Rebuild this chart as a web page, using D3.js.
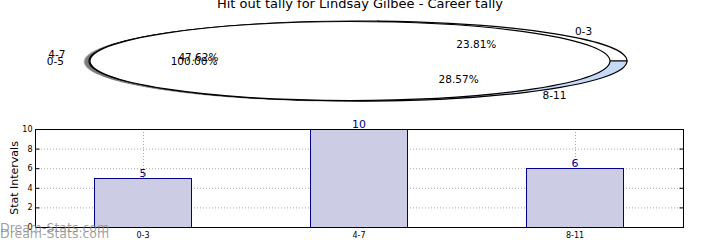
<!DOCTYPE html>
<html>
<head>
<meta charset="utf-8">
<script src="https://cdn.jsdelivr.net/npm/d3@7"></script>
<style>
  body { margin: 0; background: #fff; }
  svg { display: block; font-family: "DejaVu Sans", sans-serif; }
</style>
</head>
<body>
<svg id="chart" width="720" height="240"></svg>
<script>
// data
var categories = ["0-3", "4-7", "8-11"];
var tally = [5, 10, 6];
var pieColors = ["#ffffff", "#ffffff", "#c6d9f7"];
var overlayCategories = ["0-5"];
var overlayTally = [1];
var yTicks = [0, 2, 4, 6, 8, 10];

var width = 720, height = 240;
var svg = d3.select("#chart");

// title
svg.append("text")
    .attr("x", 360).attr("y", 8)
    .attr("text-anchor", "middle")
    .style("font-size", "13px")
    .text("Hit out tally for Lindsay Gilbee - Career tally");

// pie helpers: matplotlib style (start east, counter clockwise)
var pie = d3.pie().sort(null)
    .startAngle(Math.PI / 2)
    .endAngle(Math.PI / 2 - 2 * Math.PI);
var arc = d3.arc().innerRadius(0).outerRadius(1);

var pieLayer = svg.append("g");
var labelLayer = svg.append("g");

function drawPie(values, labels, colors, cx, cy, rx, ry) {
  var arcs = pie(values);
  var total = d3.sum(values);
  var g = pieLayer.append("g");

  // shadow
  g.append("g")
      .attr("transform", "translate(" + (cx - 0.02 * rx) + "," + (cy + 0.02 * ry) + ") scale(" + rx + "," + ry + ")")
    .selectAll("path")
    .data(arcs)
    .enter().append("path")
      .attr("d", arc)
      .attr("fill", "#000")
      .attr("fill-opacity", 0.3);

  g.append("g")
      .attr("transform", "translate(" + cx + "," + cy + ") scale(" + rx + "," + ry + ")")
    .selectAll("path")
    .data(arcs)
    .enter().append("path")
      .attr("d", arc)
      .attr("fill", function(d, i) { return colors[i]; })
      .attr("stroke", "#000")
      .attr("stroke-width", 1.2)
      .attr("vector-effect", "non-scaling-stroke");

  arcs.forEach(function(d, i) {
    var a = (d.startAngle + d.endAngle) / 2;
    var ux = Math.sin(a), uy = -Math.cos(a);
    labelLayer.append("text")
        .attr("x", cx + 1.1 * rx * ux)
        .attr("y", cy + 1.1 * ry * uy)
        .attr("dy", "0.35em")
        .attr("text-anchor", ux > 0 ? "start" : "end")
        .style("font-size", "10.5px")
        .text(labels[i]);
    labelLayer.append("text")
        .attr("x", cx + 0.6 * rx * ux)
        .attr("y", cy + 0.6 * ry * uy)
        .attr("dy", "0.35em")
        .attr("text-anchor", "middle")
        .style("font-size", "10.5px")
        .text((100 * d.value / total).toFixed(2) + "%");
  });
}

drawPie(tally, categories, pieColors, 358, 61, 269, 40);
drawPie(overlayTally, overlayCategories, ["#ffffff"], 350, 61, 260, 39.5);

// bar chart
var margin = { left: 35, right: 683, top: 129, bottom: 227 };

var x = d3.scaleBand()
    .domain(categories)
    .range([margin.left, margin.right])
    .paddingInner(0.55)
    .paddingOuter(0.275);

var y = d3.scaleLinear()
    .domain([0, 10])
    .range([margin.bottom, margin.top]);

var plot = svg.append("g");

// grid
plot.append("g").selectAll("line.gy")
    .data(yTicks.slice(1, -1))
    .enter().append("line")
      .attr("x1", margin.left).attr("x2", margin.right)
      .attr("y1", function(d) { return y(d) + 0.5; })
      .attr("y2", function(d) { return y(d) + 0.5; })
      .attr("stroke", "#aaa")
      .attr("stroke-dasharray", "1,2");

plot.append("g").selectAll("line.gx")
    .data(categories)
    .enter().append("line")
      .attr("x1", function(d) { return Math.round(x(d) + x.bandwidth() / 2) + 0.5; })
      .attr("x2", function(d) { return Math.round(x(d) + x.bandwidth() / 2) + 0.5; })
      .attr("y1", margin.top).attr("y2", margin.bottom)
      .attr("stroke", "#aaa")
      .attr("stroke-dasharray", "1,2");

// bars
plot.append("g").selectAll("rect")
    .data(tally)
    .enter().append("rect")
      .attr("x", function(d, i) { return Math.round(x(categories[i])) + 0.5; })
      .attr("y", function(d) { return Math.round(y(d)) + 0.5; })
      .attr("width", Math.round(x.bandwidth()))
      .attr("height", function(d) { return Math.round(y(0)) - Math.round(y(d)); })
      .attr("fill", "#ccccE5")
      .attr("stroke", "#00008b")
      .attr("stroke-width", 1);

plot.append("g").selectAll("text")
    .data(tally)
    .enter().append("text")
      .attr("x", function(d, i) { return x(categories[i]) + x.bandwidth() / 2; })
      .attr("y", function(d) { return y(d) - 1; })
      .attr("text-anchor", "middle")
      .attr("fill", "#00008b")
      .style("font-size", "11px")
      .text(function(d) { return d; });

// axes
var yAxis = d3.axisLeft(y).tickValues(yTicks).tickSize(-4).tickPadding(3);
var gy = svg.append("g")
    .attr("transform", "translate(" + (margin.left + 0.5) + ",0)")
    .call(yAxis);
gy.select(".domain").remove();
gy.selectAll("text").style("font-size", "8px").style("font-family", "DejaVu Sans");

var gyr = svg.append("g")
    .attr("transform", "translate(" + (margin.right + 0.5) + ",0)")
    .call(d3.axisRight(y).tickValues(yTicks).tickSize(-4).tickFormat(""));
gyr.select(".domain").remove();

var xAxis = d3.axisBottom(x).tickSize(0).tickPadding(5);
var gx = svg.append("g")
    .attr("transform", "translate(0," + (margin.bottom + 0.5) + ")")
    .call(xAxis);
gx.select(".domain").remove();
gx.selectAll("text").style("font-size", "8px").style("font-family", "DejaVu Sans");

// frame
svg.append("rect")
    .attr("x", margin.left + 0.5).attr("y", margin.top + 0.5)
    .attr("width", margin.right - margin.left)
    .attr("height", margin.bottom - margin.top)
    .attr("fill", "none")
    .attr("stroke", "#000");

svg.append("text")
    .attr("transform", "translate(18," + ((margin.top + margin.bottom) / 2) + ") rotate(-90)")
    .attr("text-anchor", "middle")
    .style("font-size", "11px")
    .text("Stat Intervals");

// watermark
[232, 238].forEach(function(by) {
  svg.append("text")
      .attr("x", 0).attr("y", by)
      .attr("fill", "#888")
      .attr("fill-opacity", 0.8)
      .style("font-size", "12.5px")
      .text("Dream-Stats.com");
});
</script>
</body>
</html>
